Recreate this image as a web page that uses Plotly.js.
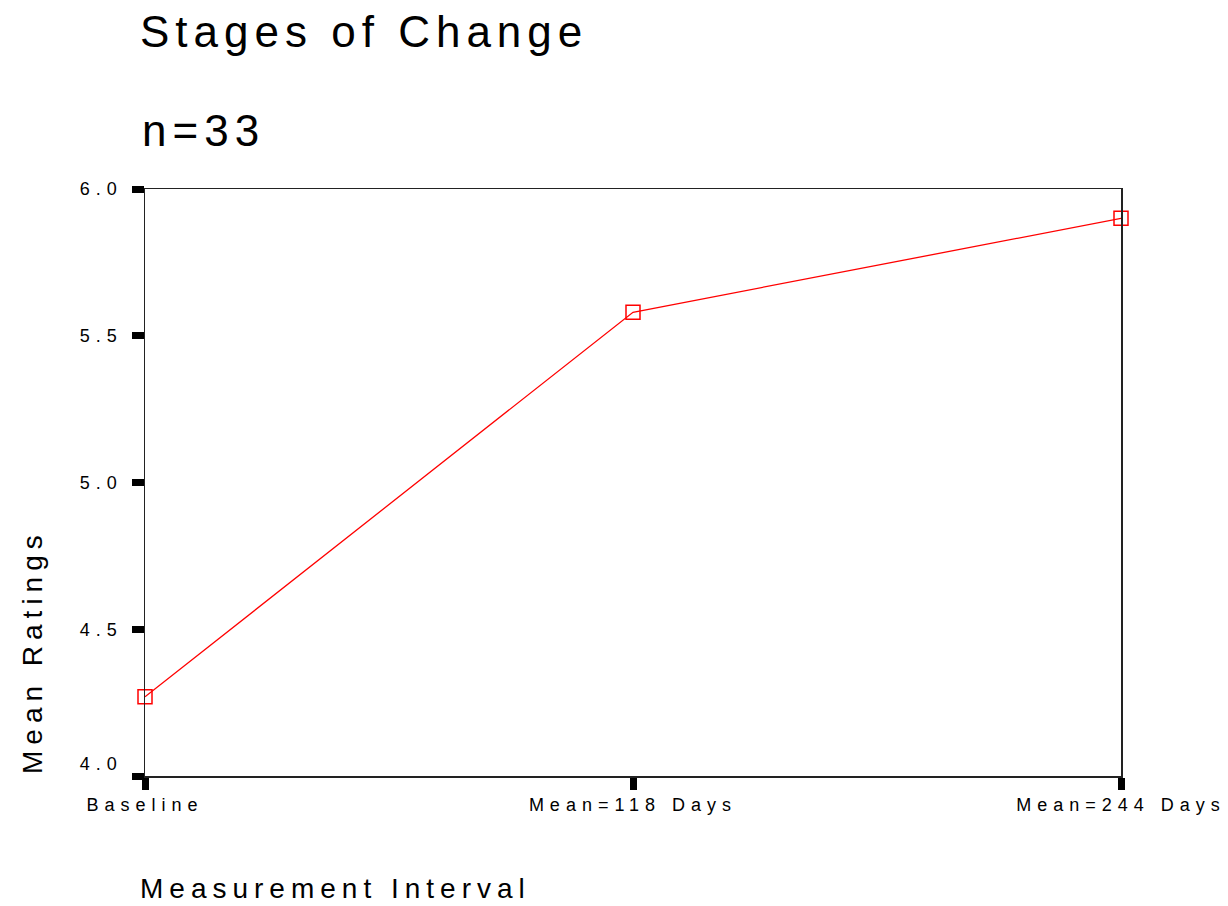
<!DOCTYPE html>
<html>
<head>
<meta charset="utf-8">
<script src="https://cdn.plot.ly/plotly-3.0.1.min.js"></script>
<style>
  html, body { margin: 0; padding: 0; background: #fff; }
  #chart { width: 1228px; height: 906px; }
  .main-svg text { letter-spacing: 6px; }
</style>
</head>
<body>
<div id="chart"></div>
<script>
const categories = ["Baseline", "Mean=118 Days", "Mean=244 Days"];
const meanRatings = [4.27, 5.58, 5.90];
const yTickValues = [4.0, 4.5, 5.0, 5.5, 6.0];
const chartTitle = "Stages of Change";
const subtitle = "n=33";
const xTitle = "Measurement Interval";
const yTitle = "Mean Ratings";

const W = 1228, H = 906;
const L = 145, R = 107, T = 189, B = 130;
const pw = W - L - R, ph = H - T - B;
function px(x) { return (x - L) / pw; }
function py(y) { return (H - B - y) / ph; }

const FONT = "Liberation Sans, Arial, sans-serif";

const trace = {
  x: categories,
  y: meanRatings,
  type: "scatter",
  mode: "lines+markers",
  line: { color: "#ff0000", width: 1.3 },
  marker: { symbol: "square-open", size: 14, color: "#ff0000", line: { width: 1.5, color: "#ff0000" } },
  cliponaxis: false,
  hoverinfo: "x+y"
};

const layout = {
  width: W, height: H,
  margin: { l: L, r: R, t: T, b: B, pad: 0 },
  paper_bgcolor: "#ffffff",
  plot_bgcolor: "#ffffff",
  showlegend: false,
  font: { family: FONT, color: "#000000" },
  title: {
    text: chartTitle,
    font: { family: FONT, size: 44, color: "#000" },
    xref: "container", x: 140 / W, xanchor: "left",
    yref: "container", y: 1 - 32 / H, yanchor: "middle"
  },
  xaxis: {
    type: "category",
    range: [0, 2],
    showgrid: false, zeroline: false,
    showline: true, linecolor: "#222", linewidth: 1.5, mirror: true,
    ticks: "outside", ticklen: 12, tickwidth: 7, tickcolor: "#000",
    tickfont: { family: FONT, size: 18, color: "#000" },
    fixedrange: true
  },
  yaxis: {
    range: [4, 6],
    tickvals: yTickValues,
    ticktext: yTickValues.map(v => v.toFixed(1)),
    showgrid: false, zeroline: false,
    showline: true, linecolor: "#222", linewidth: 1.5, mirror: true,
    ticks: "outside", ticklen: 12, tickwidth: 7, tickcolor: "#000",
    ticklabelstandoff: 5,
    tickfont: { family: FONT, size: 18, color: "#000" },
    fixedrange: true
  },
  annotations: [
    {
      text: subtitle, xref: "paper", yref: "paper",
      x: px(203), y: py(130), xanchor: "center", yanchor: "middle",
      showarrow: false, font: { family: FONT, size: 44, color: "#000" }
    },
    {
      text: xTitle, xref: "paper", yref: "paper",
      x: px(335), y: py(888), xanchor: "center", yanchor: "middle",
      showarrow: false, font: { family: FONT, size: 28, color: "#000" }
    },
    {
      text: yTitle, xref: "paper", yref: "paper",
      x: px(32), y: py(652), xanchor: "center", yanchor: "middle",
      textangle: -90,
      showarrow: false, font: { family: FONT, size: 28, color: "#000" }
    }
  ]
};

Plotly.newPlot("chart", [trace], layout, { displayModeBar: false, staticPlot: true }).then(gd => {
  // lift the bottom y tick label a little, as in the original, so it clears the x labels
  const ns = "http://www.w3.org/2000/svg";
  gd.querySelectorAll(".ytick text").forEach(t => {
    if (t.textContent.trim() === yTickValues[0].toFixed(1)) {
      const g = document.createElementNS(ns, "g");
      g.setAttribute("transform", "translate(0,-12)");
      t.parentNode.insertBefore(g, t);
      g.appendChild(t);
    }
  });
});
</script>
</body>
</html>
